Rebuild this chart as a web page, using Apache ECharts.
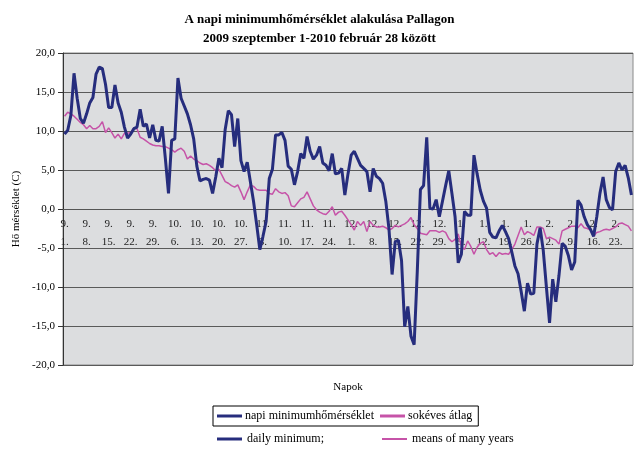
<!DOCTYPE html>
<html lang="hu">
<head>
    <meta charset="UTF-8">
    <title>A napi minimumhőmérséklet alakulása Pallagon</title>
    <script src="https://cdn.jsdelivr.net/npm/echarts@6/dist/echarts.min.js"></script>
    <style>
        html, body { margin: 0; padding: 0; background: #fff; }
        #chart { width: 639px; height: 451px; }
    </style>
</head>
<body>
<div id="chart"></div>
<script>
    // months of the period (Sep 2009 - Feb 2010) and their lengths
    const months = [9, 10, 11, 12, 1, 2];
    const monthLengths = [30, 31, 30, 31, 31, 28];

    // daily minimum temperature (C), one value per day
    const dailyMin = [
        9.6, 10.1, 12.0, 17.4, 14.2, 11.6, 11.0, 12.2, 13.6, 14.3,      // 0-9
        17.3, 18.2, 18.0, 16.0, 13.0, 13.0, 15.9, 13.6, 12.4, 10.5,     // 10-19
        9.1, 9.6, 10.3, 10.5, 12.8, 10.6, 10.9, 9.1, 10.8, 8.8,         // 20-29
        8.7, 10.6, 6.5, 2.0, 8.8, 9.0, 16.8, 14.2, 13.2, 12.2,          // 30-39
        10.8, 9.0, 5.5, 3.6, 3.8, 3.9, 3.7, 2.0, 4.1, 6.5,              // 40-49
        5.3, 10.2, 12.6, 12.1, 8.0, 11.6, 6.2, 4.8, 6.0, 3.5,           // 50-59
        1.0, -2.0, -5.2, -3.5, -1.6, 3.9, 5.1, 9.5, 9.5, 9.8,           // 60-69
        8.8, 5.5, 5.1, 3.1, 4.8, 7.1, 6.5, 9.3, 7.4, 6.4,               // 70-79
        6.9, 8.0, 5.9, 5.6, 4.9, 7.1, 4.5, 4.6, 5.2, 1.8,               // 80-89
        4.5, 6.9, 7.4, 6.5, 5.6, 5.2, 4.8, 2.2, 5.2, 4.2,               // 90-99
        3.9, 3.3, 1.0, -2.5, -8.4, -4.2, -4.0, -6.6, -15.1, -12.5,      // 100-109
        -16.3, -17.4, -8.0, 2.5, 3.0, 9.2, 0.1, 0.0, 1.2, -1.0,         // 110-119
        1.0, 3.0, 4.9, 2.0, -1.0, -6.9, -5.8, -0.3, -0.8, -0.8,         // 120-129
        6.9, 4.5, 2.4, 1.0, 0.1, -3.0, -3.6, -3.7, -2.8, -2.1,          // 130-139
        -2.9, -3.8, -5.5, -7.3, -8.3, -10.6, -13.1, -9.5, -10.9, -10.8, // 140-149
        -4.5, -2.4, -5.3, -10.0, -14.6, -9.0, -11.9, -8.5, -4.4, -4.8,  // 150-159
        -6.0, -7.8, -6.8, 1.1, 0.5, -1.0, -2.0, -2.6, -3.5, -1.0,       // 160-169
        2.0, 4.1, 1.2, 0.2, -0.1, 4.8, 5.9, 5.0, 5.6, 4.0,              // 170-179
        1.8                                                             // 180
    ];

    // long-term average (sokéves átlag)
    const longTermMean = [
        11.9, 12.4, 12.2, 11.9, 11.5, 11.1, 10.8, 10.3, 10.7, 10.3,     // 0-9
        10.3, 10.6, 11.2, 9.8, 10.4, 9.8, 9.1, 9.6, 9.0, 9.7,           // 10-19
        9.7, 9.8, 10.4, 10.3, 9.2, 9.0, 8.7, 8.4, 8.2, 8.1,             // 20-29
        8.1, 8.0, 8.0, 7.8, 7.6, 7.3, 7.6, 7.8, 7.4, 6.4,               // 30-39
        6.8, 6.4, 6.2, 5.9, 5.7, 5.8, 5.6, 5.3, 4.9, 5.1,               // 40-49
        4.3, 3.5, 3.3, 3.0, 2.8, 3.1, 2.2, 1.2, 2.2, 3.1,               // 50-59
        2.9, 2.5, 2.4, 2.4, 2.4, 2.0, 1.9, 2.6, 2.2, 2.0,               // 60-69
        2.1, 1.7, 0.4, 0.3, 0.8, 1.3, 1.5, 2.2, 1.3, 0.4,               // 70-79
        -0.1, -0.4, -0.6, -0.7, -0.3, 0.3, -0.8, -0.4, -0.3, -0.8,      // 80-89
        -1.4, -2.0, -2.7, -1.6, -2.1, -1.6, -2.9, -1.6, -2.1, -2.3,     // 90-99
        -2.3, -2.2, -2.4, -2.7, -2.5, -2.1, -2.3, -2.1, -1.9, -1.6,     // 100-109
        -1.1, -2.0, -2.5, -3.1, -3.2, -3.3, -2.8, -2.8, -2.8, -3.0,     // 110-119
        -2.8, -3.0, -3.8, -4.2, -3.9, -3.2, -4.8, -5.2, -4.1, -4.8,     // 120-129
        -5.8, -4.9, -4.4, -4.2, -5.2, -5.8, -5.6, -6.1, -5.6, -5.8,     // 130-139
        -5.7, -5.8, -5.2, -4.5, -3.4, -2.3, -3.3, -2.9, -3.1, -3.4,     // 140-149
        -2.3, -2.3, -2.5, -3.8, -3.6, -3.8, -4.0, -4.5, -2.8, -2.6,     // 150-159
        -2.4, -2.2, -2.2, -2.4, -1.9, -2.4, -2.5, -2.7, -3.5, -3.0,     // 160-169
        -2.9, -2.7, -2.6, -2.7, -2.5, -2.3, -1.9, -1.8, -2.0, -2.2,     // 170-179
        -2.8                                                            // 180
    ];

    const yTicks = { min: -20, max: 20, step: 5 };

    // category labels like "9.\n1."
    const dayLabels = [];
    months.forEach((m, i) => {
        for (let d = 1; d <= monthLengths[i]; d++) {
            dayLabels.push(m + '.\n' + d + '.');
        }
    });

    const serif = '"Liberation Serif", "DejaVu Serif", serif';
    const blue = '#262d7d';
    const pink = '#c653a8';

    const gridTop = 53, gridBottom = 86, chartH = 451;
    // the category axis sits on the 0 line, half way down the plot
    const zeroShift = -(chartH - gridTop - gridBottom) / 2;

    const chart = echarts.init(document.getElementById('chart'));

    chart.setOption({
        backgroundColor: '#ffffff',
        animation: false,
        textStyle: { fontFamily: serif, color: '#000' },
        title: {
            text: 'A napi minimumhőmérséklet alakulása Pallagon\n2009 szeptember 1-2010 február 28 között',
            left: 'center',
            top: 5,
            textStyle: {
                fontFamily: serif,
                fontSize: 13,
                fontWeight: 'bold',
                color: '#000',
                lineHeight: 19
            }
        },
        legend: [
            {
                data: ['napi minimumhőmérséklet', 'sokéves átlag'],
                left: 213,
                top: 406,
                itemWidth: 25,
                itemHeight: 3,
                itemGap: 6,
                padding: [4, 6, 4, 4],
                borderColor: '#000',
                borderWidth: 1,
                icon: 'rect',
                textStyle: { fontFamily: serif, fontSize: 12, color: '#000', padding: [0, 0, 0, -2] }
            },
            {
                data: ['daily minimum;'],
                left: 217,
                top: 433,
                itemWidth: 25,
                itemHeight: 3,
                icon: 'rect',
                padding: 0,
                textStyle: { fontFamily: serif, fontSize: 12, color: '#000' }
            },
            {
                data: ['means of many years'],
                left: 382,
                top: 433,
                itemWidth: 25,
                itemHeight: 2,
                icon: 'rect',
                padding: 0,
                textStyle: { fontFamily: serif, fontSize: 12, color: '#000' }
            }
        ],
        grid: {
            left: 63,
            right: 6,
            top: gridTop,
            bottom: gridBottom,
            outerBoundsMode: 'none',
            containLabel: false,
            show: true,
            backgroundColor: '#dcdddf',
            borderColor: '#8a8a8a',
            borderWidth: 1
        },
        xAxis: {
            type: 'category',
            data: dayLabels,
            boundaryGap: true,
            position: 'bottom',
            offset: zeroShift,
            name: 'Napok',
            nameLocation: 'middle',
            nameGap: 173,
            nameTextStyle: { fontFamily: serif, fontSize: 11, color: '#000' },
            axisLine: { onZero: false, lineStyle: { color: '#555', width: 1 } },
            axisTick: { interval: 6, alignWithLabel: true, length: 4, lineStyle: { color: '#333' } },
            axisLabel: {
                interval: 6,
                fontFamily: serif,
                fontSize: 11,
                color: '#222',
                lineHeight: 18,
                margin: 6,
                hideOverlap: false
            },
            splitLine: { show: false }
        },
        yAxis: {
            type: 'value',
            min: yTicks.min,
            max: yTicks.max,
            interval: yTicks.step,
            name: 'Hő mérséklet (C)',
            nameLocation: 'middle',
            nameGap: 38,
            nameTextStyle: { fontFamily: serif, fontSize: 11, color: '#000' },
            axisLine: { show: true, lineStyle: { color: '#333', width: 1 } },
            axisTick: { show: true, length: 5, lineStyle: { color: '#333' } },
            axisLabel: {
                fontFamily: serif,
                fontSize: 11,
                color: '#000',
                margin: 8,
                formatter: v => v.toFixed(1).replace('.', ',')
            },
            splitLine: { lineStyle: { color: '#5a5a5a', width: 1 } }
        },
        series: [
            {
                name: 'napi minimumhőmérséklet',
                type: 'line',
                data: dailyMin,
                symbol: 'none',
                color: blue,
                lineStyle: { color: blue, width: 3 },
                z: 3
            },
            {
                name: 'sokéves átlag',
                type: 'line',
                data: longTermMean,
                symbol: 'none',
                color: pink,
                lineStyle: { color: pink, width: 1.5 },
                z: 2
            },
            // english legend entries only
            { name: 'daily minimum;', type: 'line', data: [], color: blue },
            { name: 'means of many years', type: 'line', data: [], color: pink }
        ]
    });
</script>
</body>
</html>
